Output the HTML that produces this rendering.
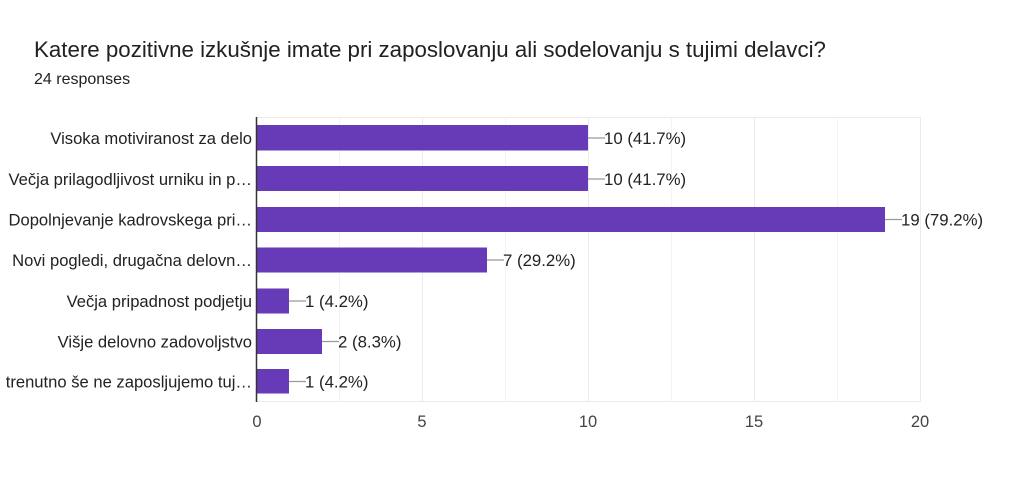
<!DOCTYPE html>
<html><head><meta charset="utf-8"><style>
body{margin:0;background:#fff;width:1022px;height:486px;overflow:hidden;font-family:"Liberation Sans",Arial,sans-serif}
</style></head><body>
<svg width="1022" height="486" xmlns="http://www.w3.org/2000/svg" font-family="Liberation Sans, Arial, sans-serif">
<text x="34" y="57" font-size="22.3" fill="#202124">Katere pozitivne izkušnje imate pri zaposlovanju ali sodelovanju s tujimi delavci?</text>
<text x="34" y="84" font-size="16" fill="#202124">24 responses</text>
<g stroke="#ebebeb" stroke-width="1">
<line x1="256" y1="117.5" x2="920" y2="117.5"/>
<line x1="256" y1="401.5" x2="920" y2="401.5"/>
<line x1="339.5" y1="117" x2="339.5" y2="402" stroke="#f3f3f3"/>
<line x1="422.5" y1="117" x2="422.5" y2="402"/>
<line x1="505.5" y1="117" x2="505.5" y2="402" stroke="#f3f3f3"/>
<line x1="588.5" y1="117" x2="588.5" y2="402"/>
<line x1="671.5" y1="117" x2="671.5" y2="402" stroke="#f3f3f3"/>
<line x1="754.5" y1="117" x2="754.5" y2="402"/>
<line x1="837.5" y1="117" x2="837.5" y2="402" stroke="#f3f3f3"/>
<line x1="920.5" y1="117" x2="920.5" y2="402"/>
</g>
<g fill="#673ab7">
<rect x="257" y="125" width="331" height="25.5"/>
<rect x="257" y="166" width="331" height="25"/>
<rect x="257" y="207" width="628" height="25"/>
<rect x="257" y="247.5" width="230" height="25"/>
<rect x="257" y="288.5" width="32" height="25"/>
<rect x="257" y="329" width="65" height="25"/>
<rect x="257" y="369" width="32" height="24.5"/>
</g>
<line x1="256.5" y1="117" x2="256.5" y2="402" stroke="#333" stroke-width="1.5"/>
<g stroke="#999" stroke-width="1.2">
<line x1="588" y1="138" x2="605" y2="138"/>
<line x1="588" y1="179" x2="605" y2="179"/>
<line x1="885" y1="219.5" x2="902" y2="219.5"/>
<line x1="487" y1="260" x2="504" y2="260"/>
<line x1="289" y1="301" x2="306" y2="301"/>
<line x1="322" y1="341.5" x2="339" y2="341.5"/>
<line x1="289" y1="381.5" x2="306" y2="381.5"/>
</g>
<g font-size="16.8" fill="#222">
<text x="604" y="144">10 (41.7%)</text>
<text x="604" y="185">10 (41.7%)</text>
<text x="901" y="225.5">19 (79.2%)</text>
<text x="503" y="266">7 (29.2%)</text>
<text x="305" y="307">1 (4.2%)</text>
<text x="338" y="347.5">2 (8.3%)</text>
<text x="305" y="387.5">1 (4.2%)</text>
</g>
<g font-size="16.6" fill="#222" text-anchor="end">
<text x="252" y="144">Visoka motiviranost za delo</text>
<text x="252" y="185">Večja prilagodljivost urniku in p…</text>
<text x="252" y="225.5">Dopolnjevanje kadrovskega pri…</text>
<text x="252" y="266">Novi pogledi, drugačna delovn…</text>
<text x="252" y="307">Večja pripadnost podjetju</text>
<text x="252" y="347.5">Višje delovno zadovoljstvo</text>
<text x="252" y="387.5">trenutno še ne zaposljujemo tuj…</text>
</g>
<g font-size="16.5" fill="#444" text-anchor="middle">
<text x="257" y="427">0</text>
<text x="422" y="427">5</text>
<text x="588" y="427">10</text>
<text x="754" y="427">15</text>
<text x="920" y="427">20</text>
</g>
</svg>
</body></html>
